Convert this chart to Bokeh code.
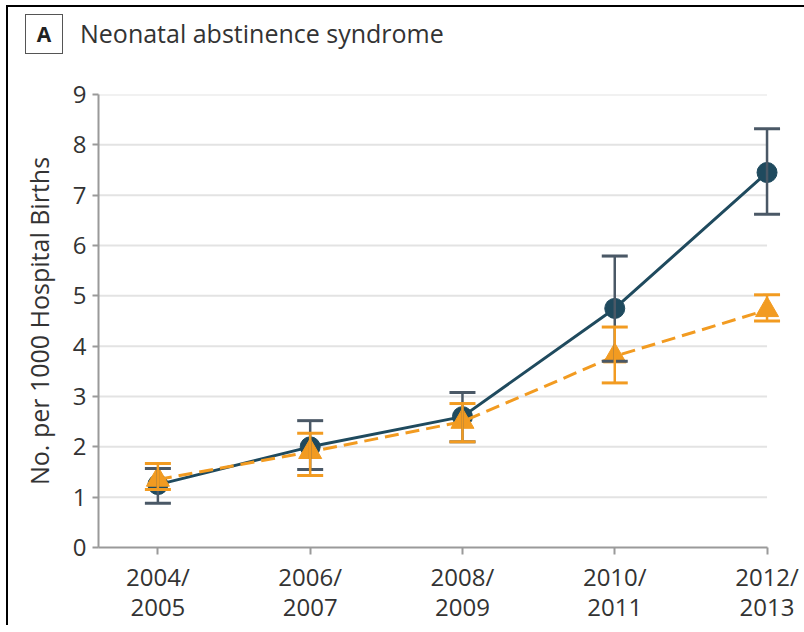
from bokeh.plotting import figure
from bokeh.models import (ColumnDataSource, Whisker, TeeHead, FixedTicker, Range1d, Div)
from bokeh.layouts import column
from bokeh.embed import file_html
from bokeh.resources import INLINE

# ---- data ----
periods = ["2004/\n2005", "2006/\n2007", "2008/\n2009", "2010/\n2011", "2012/\n2013"]
xs = [0, 1, 2, 3, 4]
blue_val = [1.25, 2.0, 2.6, 4.75, 7.45]
blue_lo = [0.88, 1.55, 2.1, 3.7, 6.62]
blue_hi = [1.57, 2.52, 3.08, 5.79, 8.32]
orange_val = [1.35, 1.9, 2.5, 3.8, 4.72]
orange_lo = [1.15, 1.43, 2.1, 3.27, 4.5]
orange_hi = [1.67, 2.27, 2.86, 4.38, 5.02]
y_ticks = [0, 1, 2, 3, 4, 5, 6, 7, 8, 9]
title_text = "Neonatal abstinence syndrome"
panel_letter = "A"
y_label = "No. per 1000 Hospital Births"

BLUE = "#1f4a5e"
BLUE_ERR = "#4a5866"
ORANGE = "#f29b21"
TXT = "#333333"
FONT = "Open Sans"

HEADER_H = 50
X0, X1 = -0.39, 4.2
p = figure(width=796, height=558, output_backend="svg", toolbar_location=None,
           x_range=Range1d(X0, X1), y_range=Range1d(0, 9),
           min_border_left=90, min_border_right=7, min_border_top=27, min_border_bottom=78)
p.outline_line_color = None
p.xgrid.visible = False
p.ygrid.visible = False

# grid lines (manual so they end at the last category)
gy = y_ticks[1:]
p.segment(x0=[X0] * len(gy), x1=[xs[-1]] * len(gy), y0=gy, y1=gy,
          line_color="#e3e3e3", line_width=2)

bsrc = ColumnDataSource(dict(x=xs, y=blue_val, lo=blue_lo, hi=blue_hi))
osrc = ColumnDataSource(dict(x=xs, y=orange_val, lo=orange_lo, hi=orange_hi))

bw = Whisker(base="x", lower="lo", upper="hi", source=bsrc, line_color=BLUE_ERR, line_width=2.5,
             upper_head=TeeHead(size=26, line_color=BLUE_ERR, line_width=3),
             lower_head=TeeHead(size=26, line_color=BLUE_ERR, line_width=3))
bw.level = "glyph"
p.add_layout(bw)
p.line("x", "y", source=bsrc, line_color=BLUE, line_width=3)
p.scatter("x", "y", source=bsrc, marker="circle", size=20, fill_color=BLUE, line_color=BLUE)

ow = Whisker(base="x", lower="lo", upper="hi", source=osrc, line_color=ORANGE, line_width=2.5,
             upper_head=TeeHead(size=26, line_color=ORANGE, line_width=3),
             lower_head=TeeHead(size=26, line_color=ORANGE, line_width=3))
ow.level = "glyph"
p.add_layout(ow)
p.line("x", "y", source=osrc, line_color=ORANGE, line_width=3, line_dash="14 7")
p.scatter("x", "y", source=osrc, marker="triangle", size=23, fill_color=ORANGE, line_color=ORANGE)

# axes
xa = p.xaxis[0]
xa.ticker = FixedTicker(ticks=xs)
xa.major_label_overrides = {x: lab for x, lab in zip(xs, periods)}
xa.bounds = (X0, xs[-1])
xa.axis_line_color = "#9a9a9a"
xa.axis_line_width = 2
xa.major_tick_line_color = "#9a9a9a"
xa.major_tick_line_width = 2
xa.major_tick_out = 7
xa.major_tick_in = 0
xa.minor_tick_line_color = None
xa.major_label_text_font = FONT
xa.major_label_text_font_size = "24px"
xa.major_label_text_color = TXT
xa.major_label_text_line_height = 0.92
xa.major_label_standoff = 5

ya = p.yaxis[0]
ya.ticker = FixedTicker(ticks=y_ticks)
ya.axis_line_color = "#9a9a9a"
ya.axis_line_width = 2
ya.major_tick_line_color = "#9a9a9a"
ya.major_tick_line_width = 2
ya.major_tick_out = 6
ya.major_tick_in = 0
ya.minor_tick_line_color = None
ya.major_label_text_font = FONT
ya.major_label_text_font_size = "24px"
ya.major_label_text_color = TXT
ya.major_label_standoff = 6
ya.axis_label = y_label
ya.axis_label_text_font = FONT
ya.axis_label_text_font_size = "25px"
ya.axis_label_text_font_style = "normal"
ya.axis_label_text_color = TXT
ya.axis_label_standoff = 14

# header with panel letter box and title
header_html = (
    '<div style="display:flex;align-items:center;height:44px;font-family:\'Open Sans\';color:#333333;">'
    '<span style="display:inline-block;box-sizing:border-box;width:38px;height:40px;line-height:38px;'
    'text-align:center;border:1.5px solid #555555;font-weight:bold;font-size:21px;color:#222222;'
    'margin-left:12px;margin-right:17px;">' + panel_letter + '</span>'
    '<span style="font-size:25px;white-space:nowrap;">' + title_text + '</span></div>'
)
header = Div(text=header_html, width=796, height=HEADER_H)

layout = column(header, p, spacing=0)
layout.styles = {"border-top": "2px solid black", "border-left": "2px solid black",
                 "margin-left": "6px", "margin-top": "5px"}

open("out.html", "w").write(file_html(layout, INLINE))
